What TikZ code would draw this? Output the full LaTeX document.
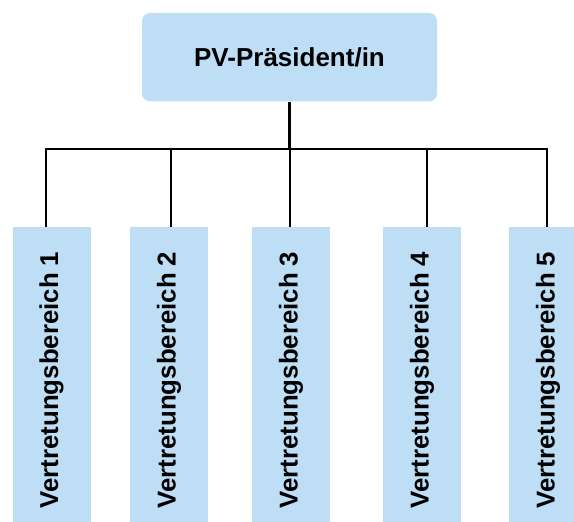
\documentclass[tikz,border=0pt]{standalone}
\usepackage{fontspec}
\setmainfont{Liberation Sans}
\usepackage{xcolor}
\usepackage{tikz}
\usetikzlibrary{positioning, calc}
\definecolor{pvblue}{HTML}{BDDEF4}

\begin{document}
\begin{tikzpicture}[x=1pt, y=-1pt,
    head/.style={rounded corners=8pt, minimum width=295pt, minimum height=88.5pt,
                 font=\fontsize{26}{30}\selectfont\bfseries, align=center, fill=pvblue},
    area/.style={minimum width=78pt, minimum height=306pt, inner sep=0pt,
                 font=\fontsize{25.8}{30}\selectfont\bfseries, fill=pvblue},
    conn/.style={draw, line width=2.4pt, black},
]
\useasboundingbox (0,0) rectangle (574,522);

% Top
\node[head] (pres) at (289.5, 57.2) {PV-Präsident/in};

% Areas
\node[area] (area1) at (51.5, 380) {\rotatebox{90}{Vertretungsbereich 1}};
\node[area] (area2) at (169, 380) {\rotatebox{90}{Vertretungsbereich 2}};
\node[area] (area3) at (291, 380) {\rotatebox{90}{Vertretungsbereich 3}};
\node[area] (area4) at (422, 380) {\rotatebox{90}{Vertretungsbereich 4}};
\node[area] (area5) at (548, 380) {\rotatebox{90}{Vertretungsbereich 5}};

% Connectors
\coordinate (bar) at (289.5, 149);
\draw[conn] (pres.south) -- (bar);
\draw[conn] ([xshift=-5.5pt]area1.north) |- (bar) -| ([xshift=-1pt]area5.north);
\draw[conn] ([xshift=2pt]area2.north) -- ([xshift=2pt]area2.north |- bar);
\draw[conn] ([xshift=-1pt]area3.north) -- ([xshift=-1pt]area3.north |- bar);
\draw[conn] ([xshift=5pt]area4.north) -- ([xshift=5pt]area4.north |- bar);
\end{tikzpicture}
\end{document}
